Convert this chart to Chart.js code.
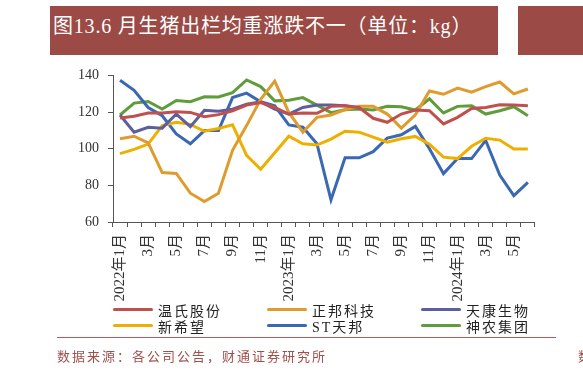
<!DOCTYPE html>
<html>
<head>
<meta charset="utf-8">
<script src="https://cdn.jsdelivr.net/npm/chart.js@4.4.1/dist/chart.umd.min.js"></script>
<style>
    body { margin: 0; width: 583px; height: 374px; background: #fff; overflow: hidden; position: relative;
           font-family: 'Liberation Serif', 'Noto Sans CJK SC', serif; }
    .banner { position: absolute; background: #9b4a45; }
    .title { left: 50px; top: 6px; width: 448px; height: 49px; color: #fff; font-size: 20px; letter-spacing: 0.8px; }
    .title span { position: absolute; left: 3px; top: 4px; white-space: nowrap; }
    .edge { left: 518px; top: 6px; width: 70px; height: 49px; }
    #wrap { position: absolute; left: 50px; top: 58px; width: 503px; height: 244px; }
    .legend { position: absolute; font-size: 14px; color: #222; letter-spacing: 2px; white-space: nowrap; }
    .legend i { position: absolute; width: 40px; height: 3px; border-radius: 2px; }
    .rule { position: absolute; left: 57px; top: 337px; width: 499px; height: 1px; background: #b85a55; }
    .src { position: absolute; left: 57px; top: 346px; font-size: 13px; color: #a0504a; letter-spacing: 2px; white-space: nowrap; }
</style>
</head>
<body>
<div class="banner title"><span>图13.6 月生猪出栏均重涨跌不一（单位：kg）</span></div>
<div class="banner edge"></div>
<div id="wrap"><canvas id="c"></canvas></div>
<div id="legend"></div>
<div class="rule"></div>
<div class="src">数据来源：各公司公告，财通证券研究所</div>
<div class="src" style="left:578px">数</div>
<script>
// 2022-01 .. 2024-06, label every other month
const months = [
    '2022年1月', '', '3月', '', '5月', '', '7月', '', '9月', '', '11月', '',
    '2023年1月', '', '3月', '', '5月', '', '7月', '', '9月', '', '11月', '',
    '2024年1月', '', '3月', '', '5月', ''
];

const wens = [116.8, 117.7, 119.5, 119.5, 120.2, 119.8, 117.5, 118.6, 120.7, 123.8, 125.2, 122.5,
    118.9, 119.5, 119.3, 123.1, 123.4, 122.5, 116.6, 114.4, 118.9, 121.1, 120.7, 113.5,
    117.1, 122.0, 122.5, 124.0, 123.8, 123.4];
const zhengbang = [105.4, 106.8, 103.2, 87.0, 86.5, 75.7, 71.2, 75.7, 99.1, 112.6, 127.0, 136.9,
    119.8, 109.0, 117.1, 118.4, 121.3, 123.1, 123.1, 118.9, 111.2, 118.5, 131.5, 129.7,
    133.1, 130.8, 133.9, 136.4, 129.9, 132.6];
const tiankang = [118.4, 109.0, 111.7, 111.2, 118.9, 112.0, 121.0, 120.4, 121.6, 124.3, 125.6, 121.6,
    118.9, 122.5, 123.8, 123.8, 123.4, 122.2, null, null, null, null, null, null,
    null, null, null, null, null, null];
const xinxiwang = [97.3, 99.6, 102.5, 112.6, 114.4, 113.3, 109.5, 111.0, 113.0, 96.4, 88.8, 97.8,
    106.8, 102.7, 102.0, 105.2, 109.5, 109.0, 106.3, 103.6, 105.4, 106.7, 102.5, 95.4,
    94.6, 101.3, 105.7, 104.7, 99.8, 99.8];
const tianbang = [137.3, 131.9, 122.5, 118.0, 108.1, 102.7, 109.9, 109.9, 127.9, 130.3, 125.6, 123.4,
    113.0, 111.7, 102.7, 72.1, 95.0, 95.0, 98.4, 105.8, 107.6, 112.2, 100.0, 86.4,
    94.6, 94.6, 104.5, 85.6, 74.4, 81.6];
const shennong = [118.4, 124.9, 125.8, 121.6, 126.3, 125.6, 128.3, 128.2, 130.6, 137.5, 133.9, 126.1,
    126.5, 127.9, 123.8, 119.7, 121.3, 121.6, 121.1, 123.1, 122.9, 121.1, 127.2, 119.5,
    123.1, 123.4, 118.9, 120.7, 122.9, 118.0];

const series = [
    { label: '温氏股份', data: wens, color: '#c0504d' },
    { label: '正邦科技', data: zhengbang, color: '#e09b2d' },
    { label: '天康生物', data: tiankang, color: '#5c5f9e' },
    { label: '新希望', data: xinxiwang, color: '#eeb000' },
    { label: 'ST天邦', data: tianbang, color: '#3b68b3' },
    { label: '神农集团', data: shennong, color: '#5f9c3c' }
];

// legend: 3 columns x 2 rows
const legend = document.getElementById('legend');
const colX = [113, 267, 421];
const rowY = [309, 325];
series.forEach((s, i) => {
    const d = document.createElement('div');
    d.className = 'legend';
    d.style.left = colX[i % 3] + 'px';
    d.style.top = (rowY[Math.floor(i / 3)] - 9) + 'px';
    d.innerHTML = `<i style="background:${s.color};left:0;top:8px"></i><span style="margin-left:45px">${s.label}</span>`;
    legend.appendChild(d);
});

const axisColor = '#555';
const tickFont = { family: "'Liberation Serif', 'Noto Sans CJK SC', serif", size: 14 };

new Chart(document.getElementById('c'), {
    type: 'line',
    data: {
        labels: months,
        datasets: series.map(s => ({
            label: s.label,
            data: s.data,
            borderColor: s.color,
            backgroundColor: s.color,
            borderWidth: 3,
            pointRadius: 0,
            tension: 0,
            spanGaps: false
        }))
    },
    options: {
        responsive: true,
        maintainAspectRatio: false,
        animation: false,
        layout: { padding: { top: 8, right: 7, left: 0, bottom: 0 } },
        plugins: { legend: { display: false }, tooltip: { enabled: false } },
        scales: {
            x: {
                offset: true,
                grid: { offset: true, drawOnChartArea: false, drawTicks: true, tickLength: 5, color: axisColor },
                border: { color: axisColor, width: 1 },
                ticks: { autoSkip: false, minRotation: 90, maxRotation: 90, color: '#333', font: { ...tickFont, size: 15 }, padding: 7 },
                afterFit: scale => { scale.height = 80; }
            },
            y: {
                min: 60,
                max: 140,
                ticks: { stepSize: 20, color: '#333', font: tickFont, padding: 9 },
                grid: { drawOnChartArea: false, drawTicks: true, tickLength: 5, color: axisColor },
                border: { color: axisColor, width: 1 },
                afterFit: scale => { scale.width = 63; }
            }
        }
    }
});
</script>
</body>
</html>
